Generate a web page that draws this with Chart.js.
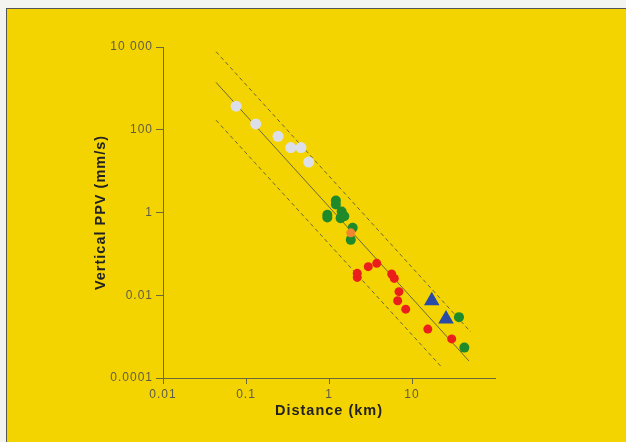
<!DOCTYPE html>
<html>
<head>
<meta charset="utf-8">
<script src="https://cdn.jsdelivr.net/npm/chart.js@4/dist/chart.umd.min.js"></script>
<style>
  html, body { margin: 0; padding: 0; background: #f3f3f0; }
  #panel {
    position: absolute; left: 6px; top: 8px;
    width: 620px; height: 434px;
    background: #f4d400;
    border-left: 1px solid #555; border-top: 1px solid #555;
  }
  canvas { display: block; }
</style>
</head>
<body>
<div id="panel"><canvas id="ppv" width="620" height="434"></canvas></div>
<script>
// --- data ---
const whiteX = [0.076, 0.131, 0.243, 0.346, 0.46, 0.569];
const whiteY = [372, 138, 69.5, 37, 37, 16.6];

const greenX = [1.21, 1.21, 0.955, 0.955, 1.42, 1.53, 1.38, 1.93, 1.83, 36.8, 42.7];
const greenY = [1.95, 1.56, 0.88, 0.757, 1.06, 0.81, 0.73, 0.426, 0.218, 0.00296, 0.000543];

const orangeX = [1.83];
const orangeY = [0.322];

const redX = [2.19, 2.19, 2.97, 3.76, 5.69, 6.12, 6.97, 6.72, 8.40, 15.5, 30.1];
const redY = [0.0338, 0.027, 0.0491, 0.059, 0.0327, 0.0255, 0.0122, 0.00736, 0.00462, 0.00152, 0.00088];

const blueX = [17.3, 25.7];
const blueY = [0.00736, 0.00265];

// regression line and its bounds
const fitX = [0.0436, 48.6];
const fitY = [1393, 0.000258];
const upperX = [0.0436, 50.9];
const upperY = [7690, 0.0013];
const lowerX = [0.0436, 23.4];
const lowerY = [170, 0.000172];

// axis ticks
const xTicks = [0.01, 0.1, 1, 10];
const xTickLabels = ['0.01', '0.1', '1', '10'];
const yTicks = [0.0001, 0.01, 1, 100, 10000];
const yTickLabels = ['0.0001', '0.01', '1', '100', '10 000'];

const pts = (xs, ys) => xs.map((x, i) => ({ x: x, y: ys[i] }));

const axisColor = '#6a6838';
const tickFont = { family: "'Liberation Sans', Arial, sans-serif", size: 12 };
const titleFont = { family: "'Liberation Sans', Arial, sans-serif", size: 14.5, weight: 'bold' };

// canvas text spacing, the print is loosely tracked
const spacing = {
  id: 'spacing',
  beforeDraw(chart) { chart.ctx.letterSpacing = '1px'; }
};

function dots(data, color, r, style) {
  return {
    data: data,
    backgroundColor: color,
    borderWidth: 0,
    pointRadius: r,
    pointHoverRadius: r,
    pointStyle: style || 'circle',
    order: 1
  };
}

function line(data, dash) {
  return {
    data: data,
    showLine: true,
    borderColor: axisColor,
    borderWidth: 1,
    borderDash: dash,
    pointRadius: 0,
    fill: false,
    order: 2
  };
}

// first dataset ends up on top
new Chart(document.getElementById('ppv'), {
  type: 'scatter',
  data: {
    datasets: [
      dots(pts(blueX, blueY), '#2a4aa8', 9, 'triangle'),
      dots(pts(orangeX, orangeY), '#f0862e', 4.5),
      dots(pts(whiteX, whiteY), '#dcdfe9', 5.5),
      dots(pts(greenX, greenY), '#1e8a2a', 5),
      dots(pts(redX, redY), '#ea1f1c', 4.5),
      line(pts(fitX, fitY), []),
      line(pts(upperX, upperY), [4, 3]),
      line(pts(lowerX, lowerY), [4, 3])
    ]
  },
  options: {
    responsive: false,
    animation: false,
    events: [],
    layout: { padding: { left: 0, top: 38, right: 132, bottom: 0 } },
    plugins: {
      legend: { display: false },
      tooltip: { enabled: false }
    },
    scales: {
      x: {
        type: 'logarithmic',
        min: 0.01,
        max: 100,
        afterBuildTicks: s => { s.ticks = xTicks.map(v => ({ value: v })); },
        afterFit: s => { s.height = 65; },
        ticks: {
          autoSkip: false,
          maxRotation: 0,
          padding: 3,
          color: '#5e5c48',
          font: tickFont,
          callback: (v, i) => xTickLabels[i]
        },
        grid: { drawOnChartArea: false, drawTicks: true, tickLength: 6, color: axisColor },
        border: { display: true, color: axisColor, width: 1 },
        title: {
          display: true,
          text: 'Distance (km)',
          color: '#222',
          font: titleFont,
          padding: { top: 0, bottom: 23 }
        }
      },
      y: {
        type: 'logarithmic',
        min: 0.0001,
        max: 10000,
        afterBuildTicks: s => { s.ticks = yTicks.map(v => ({ value: v })); },
        afterFit: s => { s.width = 156; },
        ticks: {
          autoSkip: false,
          padding: 3,
          color: '#5e5c48',
          font: tickFont,
          callback: (v, i) => yTickLabels[i]
        },
        grid: { drawOnChartArea: false, drawTicks: true, tickLength: 7, color: axisColor },
        border: { display: true, color: axisColor, width: 1 },
        title: {
          display: true,
          text: 'Vertical PPV (mm/s)',
          color: '#222',
          font: titleFont,
          padding: { top: 85, bottom: 0 }
        }
      }
    }
  },
  plugins: [spacing]
});
</script>
</body>
</html>
